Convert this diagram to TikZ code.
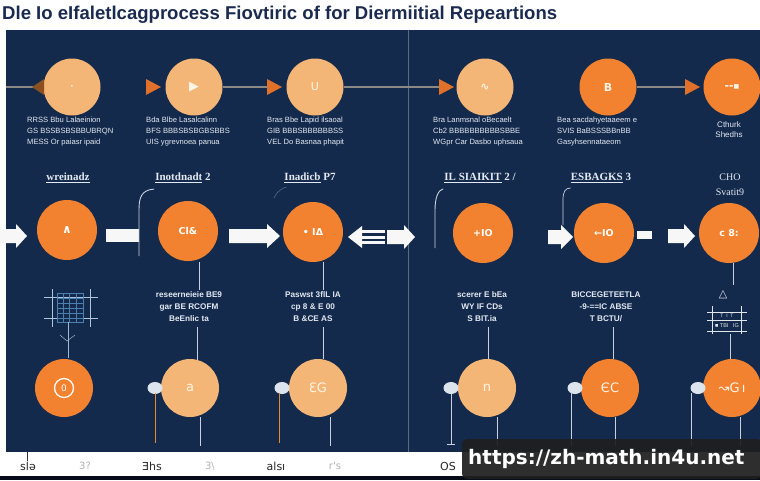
\documentclass[tikz,border=0pt]{standalone}
\usepackage{fontspec}
\usepackage{graphicx}
\setmainfont{Liberation Sans}
\newfontfamily\dvs{DejaVu Sans}
\newfontfamily\lserif{Liberation Serif}
\usetikzlibrary{shapes.geometric}
\definecolor{navy}{HTML}{142A4C}
\definecolor{lorange}{HTML}{F4B677}
\definecolor{dorange}{HTML}{F2822F}
\definecolor{titleblue}{HTML}{1B2B50}
\definecolor{gline}{HTML}{8C8984}
\definecolor{txt}{HTML}{E3E9F2}
\definecolor{divcol}{HTML}{5A6B84}
\definecolor{gridblue}{HTML}{4A7FB0}
\definecolor{triorange}{HTML}{E0702A}
\definecolor{tribrown}{HTML}{8A5022}
\definecolor{dotcol}{HTML}{DCE4EE}
\definecolor{cream}{HTML}{FFF4E6}
\definecolor{wline}{HTML}{C8D2DE}
\definecolor{oline}{HTML}{E8892E}
\newcommand\rarr[4]{\fill[wa] (#1,#4-7) -- (#2,#4-7) -- (#2,#4-12) -- (#3,#4) -- (#2,#4+12) -- (#2,#4+7) -- (#1,#4+7) -- cycle;}
\tikzset{
  dot1/.style={circle,inner sep=0,minimum size=57,fill=lorange,text=cream,font=\dvs\fontsize{11}{11}\selectfont},
  dot2/.style={dot1,fill=dorange},
  big/.style={circle,inner sep=0,minimum size=60,fill=dorange,text=white,font=\dvs\bfseries\fontsize{9.5}{10}\selectfont},
  low/.style={circle,inner sep=0,minimum size=58,fill=lorange,text=cream,font=\dvs\fontsize{13}{13}\selectfont},
  lowd/.style={low,fill=dorange},
  knob/.style={ellipse,inner sep=0,minimum width=15,minimum height=12,fill=dotcol},
  blurb/.style={anchor=north west,align=left,text=txt,inner sep=0,font=\fontsize{7.6}{10.8}\selectfont},
  mid/.style={align=center,text=txt,inner sep=0,font=\bfseries\fontsize{8.2}{12}\selectfont},
  lab/.style={text=txt,inner sep=0,font=\lserif\bfseries\fontsize{11}{12}\selectfont},
  gl/.style={draw=gline,line width=1.2},
  thinw/.style={draw=wline,line width=0.7},
  ol/.style={draw=oline,line width=1},
  wa/.style={fill=white!94!gray},
  foot/.style={text=black!85,inner sep=0,font=\dvs\fontsize{11}{11}\selectfont},
  faint/.style={text=black!30,inner sep=0,font=\dvs\fontsize{10}{10}\selectfont},
}
\begin{document}
\begin{tikzpicture}[x=1pt,y=-1pt]
\useasboundingbox (0,0) rectangle (760,480);
\fill[white] (0,0) rectangle (760,480);
\fill[navy] (6,30) rectangle (760,452);
\fill[black!70!navy] (0,476) rectangle (760,480);
\draw[divcol,line width=0.8] (408,30) -- (408,452);

% title
\node[anchor=base west,inner sep=0,text=titleblue] (title) at (2,19)
  {\resizebox{555pt}{!}{\bfseries\fontsize{20}{20}\selectfont Dle Io eIfaletlcagprocess Fiovtiric of for Diermiitial Repeartions}};

% ---------- row 1 ----------
\node[dot1] (c11) at (72,87) {\fontsize{6}{6}\selectfont •};
\node[dot1] (c12) at (194,87) {\fontsize{13}{13}\selectfont ▶};
\node[dot1] (c13) at (315,87) {U};
\node[dot1] (c14) at (485,87) {\bfseries ∿};
\node[dot2] (c15) at (608,87) {\bfseries B};
\node[dot2] (c16) at (732,87) {\bfseries --\raisebox{1pt}{\fontsize{6}{6}\selectfont ■}};

\coordinate (t12) at (146,87);
\coordinate (t13) at (267,87);
\coordinate (t14) at (439,87);
\coordinate (t16) at (685,87);
\coordinate (lstart) at (6,87);
\draw[gl] (lstart) -- (c11.west);
\draw[gl] (c12.east) -- (t13);
\draw[gl] (c13.east) -- (t14);
\draw[gl] (c15.east) -- (t16);
\fill[tribrown] (44,79) -- (32,87) -- (44,95) -- cycle;
\foreach \t in {t12,t13,t14,t16}
  \fill[triorange] (\t) ++(0,-8) -- ++(15,8) -- ++(-15,8) -- cycle;

\node[blurb] (b1) at (27,117) {RRSS Bbu Lalaeinion\\GS BSSBSBSBBUBRQN\\MESS Or paiasr ipaid};
\node[blurb] (b2) at (146,117) {Bda Blbe Lasalcalinn\\BFS BBBSBSBGBSBBS\\UIS ygrevnoea panua};
\node[blurb] (b3) at (267,117) {Bras Bbe Lapid ilsaoal\\GIB BBBSBBBBBBSS\\VEL Do Basnaa phapit};
\node[blurb] (b4) at (433,117) {Bra Lanmsnal oBecaelt\\Cb2 BBBBBBBBBBSBBE\\WGpr Car Dasbo uphsaua};
\node[blurb] (b5) at (557,117) {Bea sacdahyetaaeem e\\SVIS BaBSSSBBnBB\\Gasyhsennataeom};
\node[blurb,anchor=north,align=center,font=\fontsize{8}{10.5}\selectfont] (b6) at (729,121) {Cthurk\\Shedhs};

% ---------- row 2 ----------
\node[lab] (l1) at (68,178) {\underline{wreinadz}};
\node[lab] (l2) at (183,178) {\underline{Inotdnadt} 2};
\node[lab] (l3) at (310,178) {\underline{Inadicb} P7};
\node[lab] (l4) at (480,178) {\underline{IL SIAIKIT} 2 /};
\node[lab] (l5) at (601,178) {\underline{ESBAGKS} 3};
\node[lab,align=center,font=\lserif\fontsize{10}{15}\selectfont] (l6) at (730,185) {CHO\\Svatit9};

\node[big] (c21) at (67,230) {\fontsize{12}{12}\selectfont ∧};
\node[big] (c22) at (188,231) {Cl\&};
\node[big] (c23) at (313,232) {• IΔ};
\node[big] (c24) at (483,233) {+IO};
\node[big] (c25) at (604,233) {←IO};
\node[big] (c26) at (729,233) {c 8:};

\rarr{0}{16}{27}{236}
\fill[wa] (106,229) rectangle (139,242);
\rarr{229}{267}{280}{236}
\fill[wa] (348,237) -- (362,226) -- (362,248) -- cycle;
\fill[wa] (362,230) rectangle (385,233);
\fill[wa] (362,235.5) rectangle (385,238.5);
\fill[wa] (362,241) rectangle (385,244);
\rarr{387}{404}{415}{237}
\rarr{548}{561}{573}{237}
\fill[wa] (637,231) rectangle (652,239);
\rarr{668}{684}{695}{236}

% curved leaders from labels
\draw[thinw,line width=0.9] (l2.south west) ++(-1,6) .. controls (141,190) and (139,198) .. (139,210) -- (139,256);
\draw[thinw,line width=0.4,draw opacity=0.5] (l3.south west) ++(2,4) .. controls (278,190) and (276,194) .. (274,198);
\draw[thinw,line width=0.9] (l4.south west) ++(-1,6) .. controls (438,190) and (435,198) .. (435,210) -- (435,248);
\draw[thinw,line width=0.7] (l5.south west) ++(0,5) .. controls (565,188) and (563,192) .. (563,200) -- (563,225);

% mid text blocks
\node[mid] (m2) at (189,307) {reseerneieie BE9\\gar BE RCOFM\\BeEnlic ta};
\node[mid] (m3) at (313,307) {Paswst 3flL IA\\cp 8 \& E 00\\B \&CE AS};
\node[mid] (m4) at (482,307) {scerer E bEa\\WY IF CDs\\S BIT.ia};
\node[mid] (m5) at (606,307) {BICCEGETEETLA\\-9-==IC ABSE\\T BCTU/};

% grid icon under c21
\draw[gridblue!45,line width=0.3] (44,297) -- (98,297) (44,318) -- (98,318) (52,289) -- (52,327) (90,289) -- (90,327);
\draw[gridblue,line width=0.5] (57,293) rectangle (83,322);
\foreach \yy in {298,303,308,313,318} \draw[gridblue,line width=0.4] (57,\yy) -- (83,\yy);
\foreach \xx in {63,69,76} \draw[gridblue,line width=0.4] (\xx,293) -- (\xx,322);
\draw[gridblue!40,line width=0.4] (60,335) -- (67,341) -- (75,335);

% icon under c26
\node[text=txt,inner sep=0,font=\dvs\fontsize{11}{11}\selectfont] (tri) at (723,295) {△};
\draw[wline!55,line width=0.4] (707,312) -- (747,312) (707,320) -- (747,320) (707,331) -- (747,331) (712,306) -- (712,334) (741,306) -- (741,334);
\node[text=txt,inner sep=0,font=\fontsize{5.5}{5.5}\selectfont] (tb) at (727,326) {■ TBI \ \ IG};
\node[text=txt,inner sep=0,font=\fontsize{5}{5}\selectfont] (tb2) at (727,316) {T \ I \ T};

% ---------- row 3 ----------
\node[lowd] (c31) at (64,388) {};
\node[draw=white,line width=1.3,circle,minimum size=19,inner sep=0,text=white,font=\dvs\fontsize{9}{9}\selectfont] (ring) at (c31) {0};
\node[low] (c32) at (190,388) {a};
\node[low] (c33) at (318,388) {ƐG};
\node[low] (c34) at (487,388) {n};
\node[lowd] (c35) at (610,388) {ЄC};
\node[lowd] (c36) at (732,388) {↝G\,ı};

\node[knob] (d32) at (155,388) {};
\node[knob] (d33) at (282,388) {};
\node[knob] (d34) at (451,388) {};
\node[knob] (d35) at (575,388) {};
\node[knob] (d36) at (698,388) {};

% vertical connectors row 2 -> row 3
\coordinate (v2a) at (199,262); \coordinate (v2b) at (199,290);
\coordinate (v3a) at (323,262); \coordinate (v3b) at (323,290);
\coordinate (v6a) at (733,263); \coordinate (v6b) at (733,285);
\draw[thinw] (v2a) -- (v2b);
\draw[thinw] (v3a) -- (v3b);
\draw[thinw] (v6a) -- (v6b);
\draw[thinw] (197,327) -- (197,360);
\draw[thinw] (323,327) -- (323,359);
\draw[thinw] (488,327) -- (488,359);
\draw[thinw] (613,327) -- (613,359);
\draw[thinw] (730,334) -- (730,359);
\draw[gridblue!55,line width=0.5] (68,322) -- (68,358);

% row 3 down lines
\draw[ol] (155,393) -- (155,443);
\draw[ol] (279,393) -- (279,443);
\draw[thinw] (451,394) -- (451,444) (447,444) -- (455,444);
\draw[thinw] (571,393) -- (571,446);
\draw[thinw] (691,393) -- (691,446);
\draw[thinw] (200,417) -- (200,446);
\draw[thinw] (330,417) -- (330,446);
\draw[thinw] (497,417) -- (497,446);
\draw[thinw] (615,417) -- (615,446);
\draw[thinw] (740,417) -- (740,446);

% footer labels
\draw[black!80,line width=0.6] (27,452) -- (27,461);
\node[foot] (f1) at (28,466) {slə};
\node[faint] (f2) at (85,466) {3?};
\node[foot] (f3) at (152,466) {Ǝhs};
\node[faint] (f4) at (210,466) {3\textbackslash};
\node[foot] (f5) at (276,466) {alsı};
\node[faint] (f6) at (335,466) {r's};
\node[foot] (f7) at (448,466) {OS};

% watermark
\fill[black!88,fill opacity=0.93,rounded corners=5] (462,439) rectangle (762,479);
\node[text=white,inner sep=0,anchor=base west,font=\dvs\bfseries\fontsize{20}{20}\selectfont] (wm) at (468,464) {https://zh-math.in4u.net};
\end{tikzpicture}
\end{document}
